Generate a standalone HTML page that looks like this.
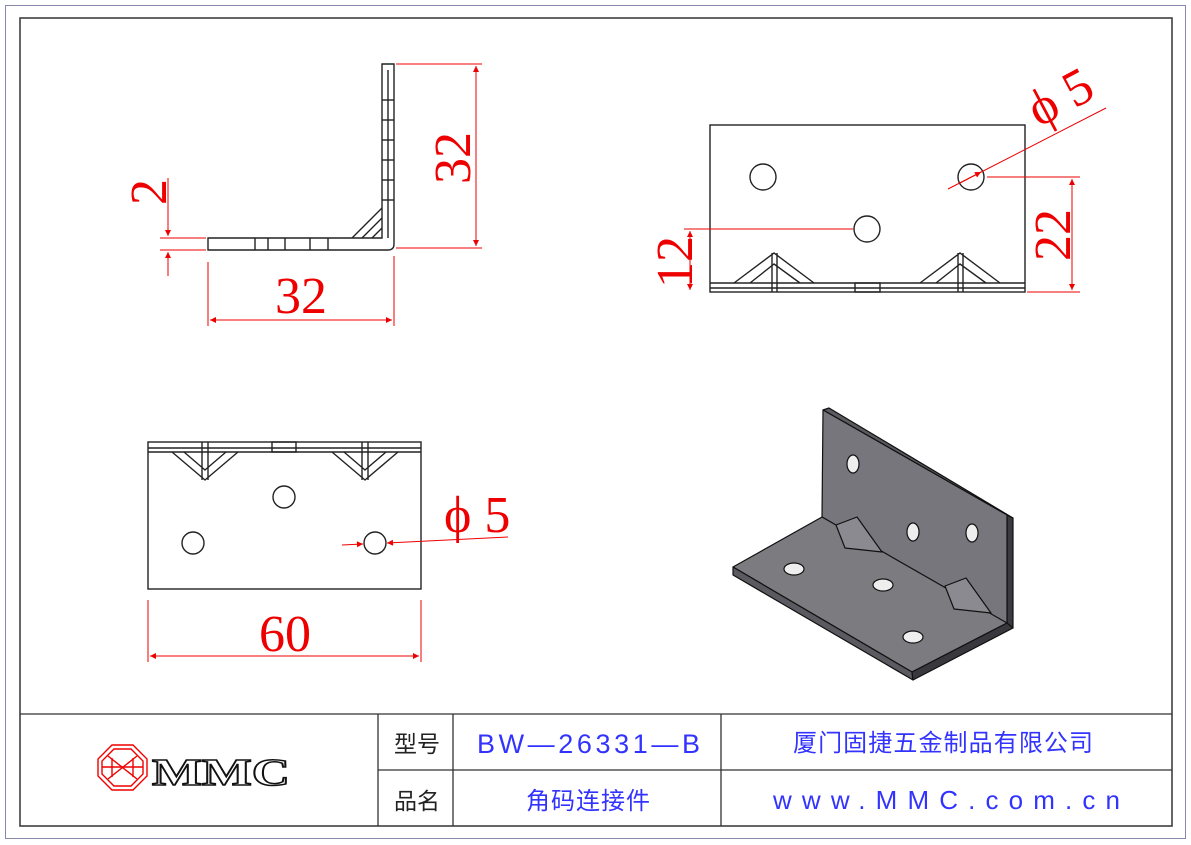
<!DOCTYPE html>
<html><head><meta charset="utf-8"><style>
html,body{margin:0;padding:0;background:#fff;}
svg{display:block;}
.r{font-family:"Liberation Serif",serif;fill:#e00;font-size:52px;}
.c{font-family:"Liberation Sans","Noto Sans CJK SC",sans-serif;}
</style></head><body>
<svg width="1191" height="845" viewBox="0 0 1191 845" xmlns="http://www.w3.org/2000/svg">
<defs>
<marker id="a" viewBox="0 0 10 10" refX="10" refY="5" markerWidth="9" markerHeight="6" orient="auto-start-reverse" markerUnits="userSpaceOnUse"><path d="M0,0L10,5L0,10z" fill="#e00"/></marker>
</defs>
<rect x="5.5" y="5.5" width="1180" height="833" fill="none" stroke="#88a" stroke-width="1"/>
<rect x="20" y="18" width="1152" height="808" fill="none" stroke="#333" stroke-width="1.5"/>
<!-- title block -->
<g stroke="#333" stroke-width="1.3">
<line x1="20" y1="714" x2="1172" y2="714"/>
<line x1="378" y1="770" x2="1172" y2="770"/>
<line x1="378" y1="714" x2="378" y2="826"/>
<line x1="453" y1="714" x2="453" y2="826"/>
<line x1="721" y1="714" x2="721" y2="826"/>
</g>
<text x="417" y="752" class="c" font-size="23" text-anchor="middle" fill="#222">型号</text>
<text x="417" y="809" class="c" font-size="23" text-anchor="middle" fill="#222">品名</text>
<text x="477" y="753" class="c" font-size="27" fill="#33f" textLength="223" lengthAdjust="spacing">BW—26331—B</text>
<text x="526" y="809" class="c" font-size="24" fill="#33f" textLength="124" lengthAdjust="spacing">角码连接件</text>
<text x="793" y="751" class="c" font-size="24" fill="#33f" textLength="300" lengthAdjust="spacing">厦门固捷五金制品有限公司</text>
<text x="773" y="809" class="c" font-size="26" fill="#33f" textLength="347" lengthAdjust="spacing">www.MMC.com.cn</text>
<!-- logo -->
<g fill="none" stroke="#e00" stroke-width="1.4">
<polygon points="112,745 133,745 147,759 147,776 133,790 112,790 98,776 98,759"/>
<polygon points="114,749 131,749 143,761 143,774 131,786 114,786 102,774 102,761"/>
<line x1="108" y1="756" x2="137" y2="779"/><line x1="137" y1="756" x2="108" y2="779"/>
<line x1="102" y1="767" x2="143" y2="767"/>
<line x1="112" y1="758" x2="112" y2="777"/><line x1="133" y1="758" x2="133" y2="777"/>
</g>
<text x="152" y="785" font-family="Liberation Serif,serif" font-weight="bold" font-size="38" fill="#fff" stroke="#111" stroke-width="1.5" textLength="138" lengthAdjust="spacingAndGlyphs">MMC</text>
<!-- view 1 -->
<g fill="none" stroke="#222" stroke-width="1.4">
<path d="M382,64 L394,64 L394,244 Q394,250 388,250 L208,250 L208,238 L382,238 Z"/>
<line x1="388" y1="70" x2="388" y2="238"/>
<path d="M352,238 L382,208 M362,238 L382,218 M372,238 L382,228"/>
<line x1="382" y1="100" x2="394" y2="100"/><line x1="382" y1="120" x2="394" y2="120"/><line x1="382" y1="140" x2="394" y2="140"/><line x1="382" y1="160" x2="394" y2="160"/><line x1="382" y1="180" x2="394" y2="180"/><line x1="382" y1="200" x2="394" y2="200"/>
<line x1="255" y1="238" x2="255" y2="250"/><line x1="268" y1="238" x2="268" y2="250"/><line x1="285" y1="238" x2="285" y2="250"/><line x1="310" y1="238" x2="310" y2="250"/><line x1="328" y1="238" x2="328" y2="250"/>
</g>
<g stroke="#e00" stroke-width="1" fill="none">
<line x1="396" y1="64" x2="482" y2="64"/><line x1="396" y1="248" x2="482" y2="248"/>
<line x1="476" y1="66" x2="476" y2="246" marker-start="url(#a)" marker-end="url(#a)"/>
<line x1="208" y1="262" x2="208" y2="326"/><line x1="394" y1="256" x2="394" y2="326"/>
<line x1="210" y1="320" x2="392" y2="320" marker-start="url(#a)" marker-end="url(#a)"/>
<line x1="160" y1="238" x2="206" y2="238"/><line x1="160" y1="250" x2="206" y2="250"/>
<line x1="168" y1="178" x2="168" y2="236" marker-end="url(#a)"/>
<line x1="168" y1="276" x2="168" y2="252" marker-end="url(#a)"/>
</g>
<text class="r" transform="translate(470,158) rotate(-90)" text-anchor="middle">32</text>
<text class="r" x="301" y="313" text-anchor="middle">32</text>
<text class="r" transform="translate(166,192) rotate(-90)" text-anchor="middle">2</text>
<!-- view 2 -->
<g fill="none" stroke="#222" stroke-width="1.4">
<rect x="710" y="125" width="315" height="167"/>
<line x1="710" y1="283" x2="1025" y2="283"/><line x1="710" y1="288" x2="1025" y2="288"/>
<circle cx="763" cy="177" r="13"/><circle cx="971" cy="177" r="13"/><circle cx="867" cy="229" r="13"/>
<path d="M734,283 L774,253 L814,283 M750,283 L774,264 L800,283 M772,253 L772,292 M777,253 L777,292"/>
<path d="M920,283 L960,253 L1000,283 M936,283 L960,264 L986,283 M958,253 L958,292 M963,253 L963,292"/>
<rect x="855" y="283" width="25" height="9"/>
</g>
<g stroke="#e00" stroke-width="1" fill="none">
<line x1="987" y1="177" x2="1080" y2="177"/><line x1="1027" y1="292" x2="1080" y2="292"/>
<line x1="1072" y1="179" x2="1072" y2="290" marker-start="url(#a)" marker-end="url(#a)"/>
<line x1="684" y1="229" x2="853" y2="229"/>
<line x1="690" y1="231" x2="690" y2="290" marker-start="url(#a)" marker-end="url(#a)"/>
<line x1="948" y1="189" x2="1106" y2="108"/>
<line x1="960" y1="183" x2="981" y2="172" marker-end="url(#a)"/>
</g>
<text class="r" transform="translate(1070,235) rotate(-90)" text-anchor="middle">22</text>
<text class="r" transform="translate(692,262) rotate(-90)" text-anchor="middle">12</text>
<text class="r" transform="translate(1068,112) rotate(-28)" text-anchor="middle">ϕ 5</text>
<!-- view 3 -->
<g fill="none" stroke="#222" stroke-width="1.4">
<rect x="148" y="442" width="273" height="147"/>
<line x1="148" y1="448" x2="421" y2="448"/><line x1="148" y1="452" x2="421" y2="452"/>
<circle cx="193" cy="543" r="11"/><circle cx="284" cy="497" r="11"/><circle cx="375" cy="543" r="11"/>
<path d="M172,452 L205,480 L238,452 M184,452 L205,470 L226,452 M202,442 L202,480 M208,442 L208,480"/>
<path d="M332,452 L365,480 L398,452 M344,452 L365,470 L386,452 M362,442 L362,480 M368,442 L368,480"/>
<rect x="272" y="442" width="24" height="10"/>
</g>
<g stroke="#e00" stroke-width="1" fill="none">
<line x1="342" y1="545" x2="363" y2="544" marker-end="url(#a)"/>
<line x1="508" y1="537" x2="387" y2="543" marker-end="url(#a)"/>
<line x1="148" y1="600" x2="148" y2="662"/><line x1="421" y1="600" x2="421" y2="662"/>
<line x1="150" y1="656" x2="419" y2="656" marker-start="url(#a)" marker-end="url(#a)"/>
</g>
<text class="r" x="444" y="532" font-size="42">ϕ 5</text>
<text class="r" x="285" y="651" text-anchor="middle" font-size="46">60</text>
<!-- 3D -->
<g stroke="#111" stroke-width="1.2" stroke-linejoin="round">
<polygon points="1007,515 1013,518 1013,628 1007,625" fill="#3a3a40"/>
<polygon points="823,410 829,408 1013,518 1007,515" fill="#5a5a60"/>
<polygon points="823,410 1007,515 1007,625 822,517" fill="#76767c"/>
<polygon points="733,567 822,517 1007,623 912,672" fill="#7c7c80"/>
<polygon points="733,567 912,672 913,680 733,575" fill="#5a5a60"/>
<polygon points="912,672 1007,623 1013,628 913,680" fill="#38383e"/>
<polygon points="836,525 857,517 882,552 845,548" fill="#8a8a90"/>
<polygon points="945,586 966,578 991,613 954,609" fill="#8a8a90"/>
<ellipse cx="853" cy="464" rx="6" ry="9" fill="#eee"/>
<ellipse cx="913" cy="532" rx="6" ry="9" fill="#eee"/>
<ellipse cx="972" cy="533" rx="6" ry="9" fill="#eee"/>
<ellipse cx="794" cy="569" rx="10" ry="6" fill="#eee"/>
<ellipse cx="883" cy="585" rx="10" ry="6" fill="#eee"/>
<ellipse cx="913" cy="637" rx="10" ry="6" fill="#eee"/>
</g>
</svg>
</body></html>
